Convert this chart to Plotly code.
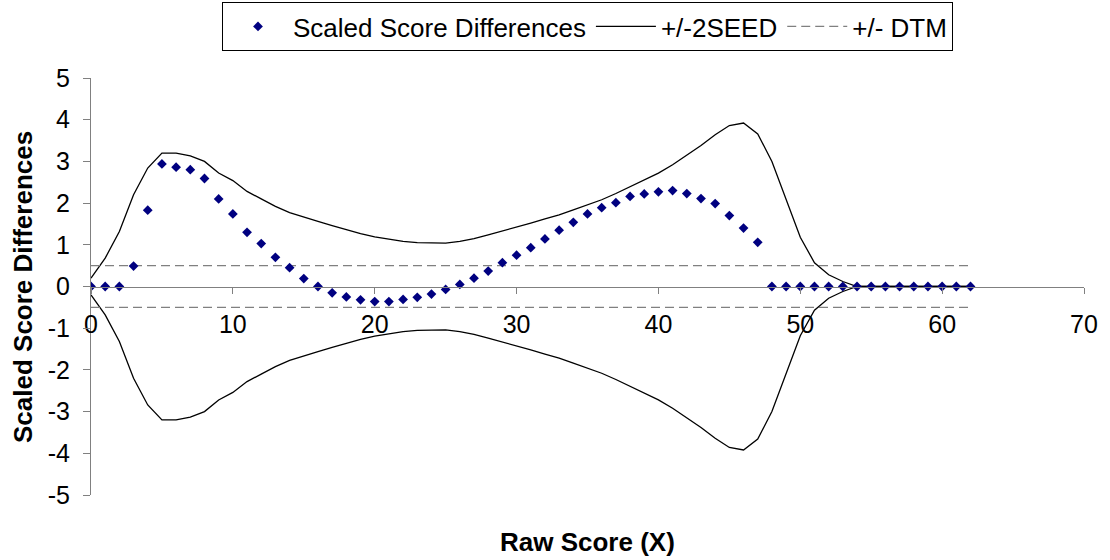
import plotly.graph_objects as go

# Raw score points 0..62
raw_score = list(range(63))

# Scaled score differences at each raw score
score_diff = [
    0.00, 0.00, 0.00, 0.49, 1.83, 2.94, 2.86, 2.80, 2.59, 2.10,
    1.74, 1.30, 1.03, 0.70, 0.45, 0.19, 0.00, -0.15, -0.25, -0.32,
    -0.36, -0.36, -0.31, -0.26, -0.18, -0.07, 0.05, 0.20, 0.37, 0.57,
    0.75, 0.93, 1.14, 1.35, 1.54, 1.74, 1.89, 2.01, 2.16, 2.22,
    2.27, 2.30, 2.23, 2.11, 1.99, 1.70, 1.40, 1.06, 0.00, 0.00,
    0.00, 0.00, 0.00, 0.00, 0.00, 0.00, 0.00, 0.00, 0.00, 0.00,
    0.00, 0.00, 0.00,
]

# Two standard errors of the equating difference (upper band; lower band is its negative)
two_seed = [
    0.20, 0.68, 1.32, 2.20, 2.84, 3.20, 3.20, 3.13, 3.00, 2.72,
    2.54, 2.28, 2.10, 1.92, 1.77, 1.66, 1.56, 1.46, 1.36, 1.27,
    1.19, 1.13, 1.08, 1.05, 1.04, 1.04, 1.08, 1.15, 1.24, 1.33,
    1.43, 1.52, 1.62, 1.72, 1.84, 1.96, 2.08, 2.23, 2.39, 2.55,
    2.72, 2.92, 3.14, 3.38, 3.64, 3.86, 3.92, 3.66, 3.00, 2.10,
    1.18, 0.57, 0.28, 0.12, 0.00, 0.00, 0.00, 0.00, 0.00, 0.00,
    0.00, 0.00, 0.00,
]

# Difference that matters
dtm = 0.5

x_ticks = [0, 10, 20, 30, 40, 50, 60, 70]
y_ticks = [-5, -4, -3, -2, -1, 0, 1, 2, 3, 4, 5]

FONT = "Liberation Sans, Arial, sans-serif"
AXIS_GREY = "#808080"

fig = go.Figure()

# +/- 2SEED band, drawn as one path with a break between upper and lower
seed_x = raw_score + [None] + raw_score
seed_y = two_seed + [None] + [-v for v in two_seed]
fig.add_trace(go.Scatter(
    x=seed_x, y=seed_y, mode="lines", name="+/-2SEED",
    line=dict(color="black", width=1.3), legendrank=2,
    connectgaps=False,
))

# +/- DTM reference lines across the score range
lo, hi = raw_score[0], raw_score[-1]
fig.add_trace(go.Scatter(
    x=[lo, hi, None, lo, hi], y=[dtm, dtm, None, -dtm, -dtm],
    mode="lines", name="+/- DTM",
    line=dict(color=AXIS_GREY, width=1.2, dash="9px,5px"), legendrank=3,
    connectgaps=False,
))

# Scaled score differences
fig.add_trace(go.Scatter(
    x=raw_score, y=score_diff, mode="markers", name="Scaled Score Differences",
    marker=dict(symbol="diamond", size=7.5, color="#000080"), legendrank=1,
))

fig.update_layout(
    width=1110, height=560,
    margin=dict(l=91, r=21, t=78, b=65),
    paper_bgcolor="white", plot_bgcolor="white",
    font=dict(family=FONT, size=25, color="black"),
    showlegend=True,
    legend=dict(
        orientation="h", xref="paper", x=0.5, xanchor="center",
        yref="container", y=1 - 2 / 560, yanchor="top",
        bordercolor="black", borderwidth=1, bgcolor="white",
        font=dict(family=FONT, size=26, color="black"),
        itemwidth=60, itemclick=False,
    ),
    xaxis=dict(
        range=[0, 70], tickvals=x_ticks, ticktext=[str(v) for v in x_ticks],
        anchor="free", position=0.5, side="bottom",
        showline=True, linecolor=AXIS_GREY, linewidth=1,
        ticks="outside", ticklen=6, tickcolor=AXIS_GREY, tickwidth=1,
        ticklabelstandoff=9,
        showgrid=False, zeroline=False,
        tickfont=dict(family=FONT, size=25, color="black"),
    ),
    yaxis=dict(
        range=[-5, 5], tickvals=y_ticks, ticktext=[str(v) for v in y_ticks],
        showline=True, linecolor=AXIS_GREY, linewidth=1,
        ticks="outside", ticklen=7, tickcolor=AXIS_GREY, tickwidth=1,
        ticklabelstandoff=8,
        showgrid=False, zeroline=False,
        tickfont=dict(family=FONT, size=25, color="black"),
    ),
    annotations=[
        dict(
            text="<b>Raw Score (X)</b>", xref="paper", yref="paper",
            x=0.5, y=-0.1127, xanchor="center", yanchor="middle",
            showarrow=False, font=dict(family=FONT, size=26, color="black"),
        ),
        dict(
            text="<b>Scaled Score Differences</b>", xref="paper", yref="paper",
            x=-0.069, y=0.5, xanchor="center", yanchor="middle", textangle=-90,
            showarrow=False, font=dict(family=FONT, size=26, color="black"),
        ),
    ],
)

fig.write_html("out.html")
